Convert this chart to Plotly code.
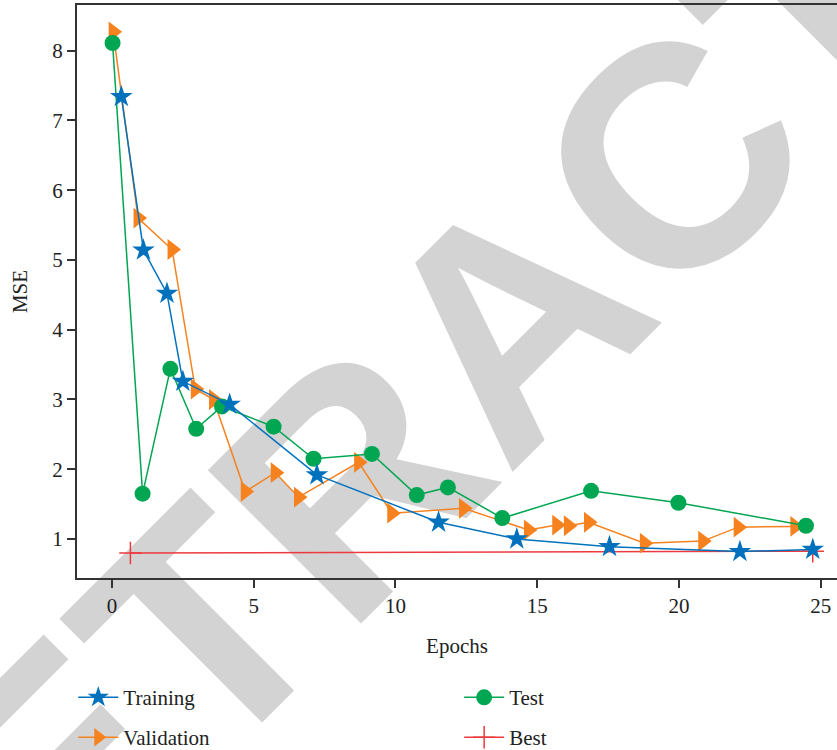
import plotly.graph_objects as go

# ---- data ----
train_x = [0.33, 1.11, 1.94, 2.50, 4.15, 7.23, 11.52, 14.28, 17.55, 22.15, 24.72]
train_y = [7.34, 5.14, 4.52, 3.26, 2.93, 1.92, 1.24, 1.00, 0.89, 0.82, 0.85]

val_x = [0.04, 0.92, 2.12, 2.94, 3.58, 4.70, 5.76, 6.58, 8.70, 9.87, 12.40,
         14.69, 15.69, 16.10, 16.81, 18.78, 20.84, 22.09, 24.09]
val_y = [8.27, 5.60, 5.15, 3.15, 3.00, 1.68, 1.95, 1.60, 2.10, 1.37, 1.44,
         1.13, 1.20, 1.19, 1.24, 0.94, 0.97, 1.17, 1.18]

test_x = [0.02, 1.08, 2.06, 2.97, 3.88, 5.70, 7.11, 9.17, 10.75, 11.85, 13.77,
          16.90, 19.98, 24.48]
test_y = [8.11, 1.65, 3.44, 2.58, 2.90, 2.61, 2.15, 2.22, 1.63, 1.74, 1.30,
          1.69, 1.52, 1.19]

best_x = [0.65, 24.72]
best_y = [0.80, 0.825]

x_ticks = [0, 5, 10, 15, 20, 25]
y_ticks = [1, 2, 3, 4, 5, 6, 7, 8]

BLUE = "#0072BD"
ORANGE = "#F5821F"
GREEN = "#00A651"
RED = "#EC3A3F"
FONT = "Liberation Serif"
TXT = "#222222"

fig = go.Figure()

fig.add_trace(go.Scatter(
    x=best_x, y=best_y, name="Best", mode="lines+markers",
    line=dict(color=RED, width=1.5),
    marker=dict(symbol="cross-thin", size=16, color=RED, line=dict(width=1.5, color=RED)),
    legend="legend4"))
fig.add_trace(go.Scatter(
    x=val_x, y=val_y, name="Validation", mode="lines+markers",
    line=dict(color=ORANGE, width=1.5),
    marker=dict(symbol="triangle-right", size=18, color=ORANGE),
    legend="legend2"))
fig.add_trace(go.Scatter(
    x=test_x, y=test_y, name="Test", mode="lines+markers",
    line=dict(color=GREEN, width=1.5),
    marker=dict(symbol="circle", size=16, color=GREEN),
    legend="legend3"))
fig.add_trace(go.Scatter(
    x=train_x, y=train_y, name="Training", mode="lines+markers",
    line=dict(color=BLUE, width=1.5),
    marker=dict(symbol="star", size=17, color=BLUE),
    legend="legend"))

AX = "#333333"

leg_common = dict(
    orientation="v", xanchor="left", yanchor="middle",
    bgcolor="rgba(0,0,0,0)", borderwidth=0, itemwidth=40,
    font=dict(family=FONT, size=21, color=TXT),
)
# pixel -> paper helpers for legend / watermark placement
L, R, T, B = 76.7, 837.0, 5.0, 578.3
def px_x(p):
    return (p - L) / (R - L)
def px_y(p):
    return (B - p) / (B - T)

fig.update_layout(
    width=837, height=750,
    margin=dict(l=L, r=0, t=T, b=750 - B, pad=0, autoexpand=False),
    paper_bgcolor="white", plot_bgcolor="white",
    font=dict(family=FONT, size=20, color=TXT),
    showlegend=True,
    legend=dict(x=px_x(73), y=px_y(698), **leg_common),
    legend2=dict(x=px_x(73), y=px_y(738), **leg_common),
    legend3=dict(x=px_x(459), y=px_y(698), **leg_common),
    legend4=dict(x=px_x(459), y=px_y(738), **leg_common),
    xaxis=dict(
        range=[-1.234, 25.575], tickvals=x_ticks, ticktext=[str(v) for v in x_ticks],
        showgrid=False, zeroline=False, automargin=False,
        showline=True, linecolor=AX, linewidth=2, mirror=True,
        ticks="outside", ticklen=8, tickwidth=1.5, tickcolor=AX,
        tickfont=dict(family=FONT, size=21, color=TXT),
        title=dict(text="Epochs", font=dict(family=FONT, size=21, color=TXT), standoff=21),
    ),
    yaxis=dict(
        range=[0.441, 8.655], tickvals=y_ticks, ticktext=[str(v) for v in y_ticks],
        showgrid=False, zeroline=False, automargin=False,
        showline=True, linecolor=AX, linewidth=2, mirror=False,
        ticks="outside", ticklen=8, tickwidth=1.5, tickcolor=AX,
        tickfont=dict(family=FONT, size=21, color=TXT),
        title=dict(text="MSE", font=dict(family=FONT, size=21, color=TXT), standoff=19),
    ),
)

# RETRACTED watermark, below the data
cx, cy = px_x(489), px_y(299)
fig.add_shape(
    type="rect", xref="paper", yref="paper",
    x0=cx - 0.01, x1=cx + 0.01, y0=cy - 0.01, y1=cy + 0.01,
    line=dict(width=0), fillcolor="rgba(0,0,0,0)", layer="below",
    label=dict(text="RETRACTED", textangle=-45, textposition="middle center",
               font=dict(family="Liberation Sans", size=315, color="#D3D3D3", weight="bold")),
)

fig.write_html(
    "out.html",
    config={"displayModeBar": False},
    post_script="document.body.style.margin='0';document.body.style.padding='0';"
                "document.body.style.overflow='hidden';",
)
